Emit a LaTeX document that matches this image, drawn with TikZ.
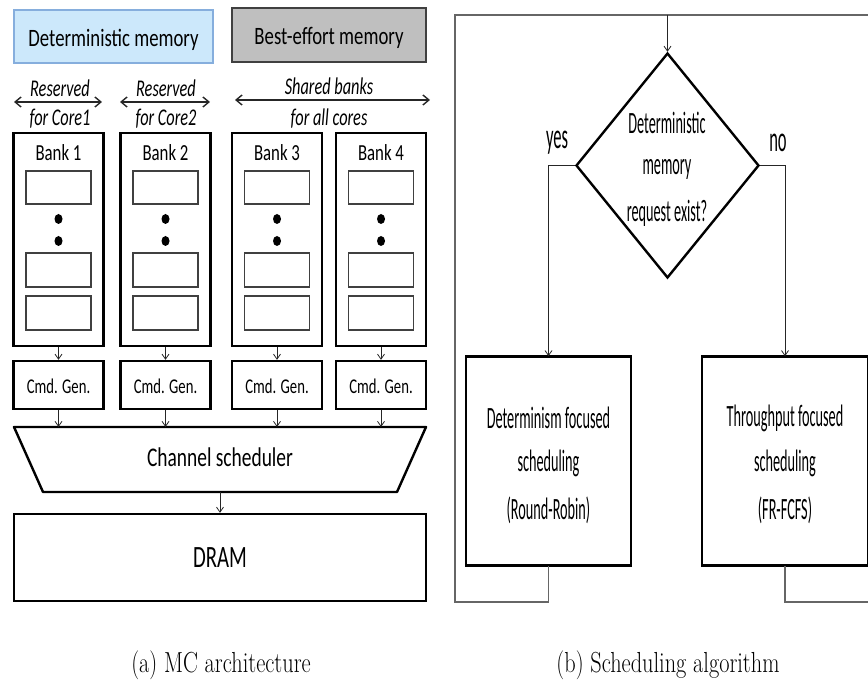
\documentclass[tikz,border=0pt]{standalone}
\usepackage{fontspec}
\usepackage{graphicx}
\newfontfamily\calfont{Carlito}
\usetikzlibrary{arrows.meta,shapes.geometric}
\newcommand\hsq[2]{\scalebox{#1}[1]{#2}}
\definecolor{detfill}{HTML}{CCE8FB}
\definecolor{detline}{HTML}{86AEDD}
\begin{document}
\begin{tikzpicture}[x=1pt,y=-1pt,
  box/.style={draw,line width=2.4pt,inner sep=0},
  cell/.style={draw=black!75,line width=1.4pt,inner sep=0,minimum width=65,minimum height=34},
  dotc/.style={fill=black,ellipse,inner sep=0,minimum width=8,minimum height=10},
  arr/.style={-{Straight Barb[length=5pt,width=7pt]},line width=0.8pt,black!85},
  darr/.style={{Straight Barb[length=6pt,width=10pt]}-{Straight Barb[length=6pt,width=10pt]},line width=1.4pt,black!85},
  loopl/.style={draw=black!60,line width=1.6pt},
  lbl/.style={inner sep=0,font=\calfont},
  fbox/.style={draw,line width=1.6pt,inner sep=0,minimum width=165,minimum height=208}]
\useasboundingbox (0,0) rectangle (868,692);

% ---------- (a) MC architecture ----------
\node[draw=detline,fill=detfill,line width=1.2pt,minimum width=199,minimum height=53,inner sep=0] (det) at (113.5,36.5) {};
\node[lbl,font=\calfont\fontsize{25}{25}\selectfont] (dett) at (113.5,40) {\hsq{0.75}{Deterministic memory}};
\node[draw=black!75,fill=black!25,line width=2pt,minimum width=194,minimum height=54,inner sep=0] (best) at (329,35) {};
\node[lbl,font=\calfont\fontsize{25}{25}\selectfont] (bestt) at (329,38) {\hsq{0.75}{Best-effort memory}};

\coordinate (a1l) at (14,102); \coordinate (a1r) at (102,102);
\coordinate (a2l) at (120,102); \coordinate (a2r) at (210,102);
\coordinate (a3l) at (235,100); \coordinate (a3r) at (430,100);
\draw[darr] (a1l) -- (a1r);
\draw[darr] (a2l) -- (a2r);
\draw[darr] (a3l) -- (a3r);
\tikzset{itl/.style={lbl,font=\calfont\itshape\fontsize{24}{24}\selectfont}}
\node[itl] (r1a) at (60,88) {\hsq{0.68}{Reserved}};
\node[itl] (r1b) at (60,119) {\hsq{0.68}{for Core1}};
\node[itl] (r2a) at (166,88) {\hsq{0.68}{Reserved}};
\node[itl] (r2b) at (166,119) {\hsq{0.68}{for Core2}};
\node[itl] (r3a) at (329,86) {\hsq{0.68}{Shared banks}};
\node[itl] (r3b) at (329,119) {\hsq{0.68}{for all cores}};

\foreach \i/\cx in {1/58.5,2/165.5,3/277,4/381}{
  \node[box,minimum width=90,minimum height=213] (b\i) at (\cx,239.5) {};
  \node[lbl,font=\calfont\fontsize{23}{23}\selectfont] (bt\i) at (\cx,153) {\hsq{0.73}{Bank \i}};
  \node[cell,minimum height=33] (c\i a) at (\cx,187.5) {};
  \node[dotc] (d\i a) at (\cx,219) {};
  \node[dotc] (d\i b) at (\cx,241) {};
  \node[cell] (c\i b) at (\cx,270) {};
  \node[cell] (c\i c) at (\cx,313) {};
  \node[box,minimum width=90,minimum height=48] (g\i) at (\cx,385) {};
  \node[lbl,font=\calfont\fontsize{21}{21}\selectfont] (gt\i) at (\cx,386) {\hsq{0.7}{Cmd. Gen.}};
  \draw[arr] (b\i) -- (g\i);
}
% channel scheduler
\coordinate (csA) at (14,427); \coordinate (csB) at (426,427);
\coordinate (csC) at (397,492); \coordinate (csD) at (43,492);
\draw[line width=2.4pt,line join=round] (csA) -- (csB) -- (csC) -- (csD) -- cycle;
\node[lbl,font=\calfont\fontsize{27}{27}\selectfont] (cs) at (220,457) {\hsq{0.72}{Channel scheduler}};
\foreach \i in {1,...,4}{
  \draw[arr] (g\i.south) -- (g\i.south |- csA);
}
\coordinate (csbot) at (220,492);
\node[box,minimum width=412,minimum height=87] (dram) at (220,557.5) {};
\node[lbl,font=\calfont\fontsize{31}{31}\selectfont] (dramt) at (220,558) {\hsq{0.67}{DRAM}};
\draw[arr] (csbot) -- (dram.north);

% ---------- (b) Scheduling algorithm ----------
\node[diamond,draw,line width=2.4pt,minimum width=183,minimum height=225,inner sep=0] (dec) at (667.5,165.5) {};
\tikzset{fl/.style={lbl,font=\calfont\fontsize{31}{31}\selectfont}}
\node[fl] (q1) at (667,123) {\hsq{0.46}{Deterministic}};
\node[fl] (q2) at (667,169) {\hsq{0.46}{memory}};
\node[fl] (q3) at (667,213) {\hsq{0.46}{request exist?}};
\node[lbl,font=\calfont\fontsize{36}{36}\selectfont] (yes) at (557,143) {\hsq{0.46}{yes}};
\node[lbl,font=\calfont\fontsize{36}{36}\selectfont] (no) at (778,143) {\hsq{0.46}{no}};

\node[fbox] (lb) at (548.5,461) {};
\node[fbox,minimum width=166] (rb) at (785,461) {};
\foreach \n in {lb,rb}{
  \draw[line width=3pt] (\n.north west) -- (\n.north east);
  \draw[line width=3pt] (\n.south west) -- (\n.south east);
}
\node[fl] (l1) at (548.5,418) {\hsq{0.46}{Determinism focused}};
\node[fl] (l2) at (548.5,463) {\hsq{0.46}{scheduling}};
\node[fl] (l3) at (548.5,510) {\hsq{0.46}{(Round-Robin)}};
\node[fl] (m1) at (785,418) {\hsq{0.46}{Throughput focused}};
\node[fl] (m2) at (785,463) {\hsq{0.46}{scheduling}};
\node[fl] (m3) at (785,510) {\hsq{0.46}{(FR-FCFS)}};

\draw[arr] (dec.west) -| (lb.north);
\draw[arr] (dec.east) -| (rb.north);

\coordinate (lpbl) at (455,602);
\coordinate (lptr) at (872,15);
\coordinate (lpbr) at (872,602);
\coordinate (lptop) at (667.5,15);
\draw[loopl] (lb.south) |- (lpbl) |- (lptr);
\draw[loopl] (rb.south) |- (lpbr);
\draw[arr] (lptop) -- (dec.north);

% captions
\node[inner sep=0,font=\fontsize{29}{29}\selectfont] (capa) at (221,665) {\hsq{0.77}{(a) MC architecture}};
\node[inner sep=0,font=\fontsize{29}{29}\selectfont] (capb) at (668,665) {\hsq{0.77}{(b) Scheduling algorithm}};
\end{tikzpicture}
\end{document}
